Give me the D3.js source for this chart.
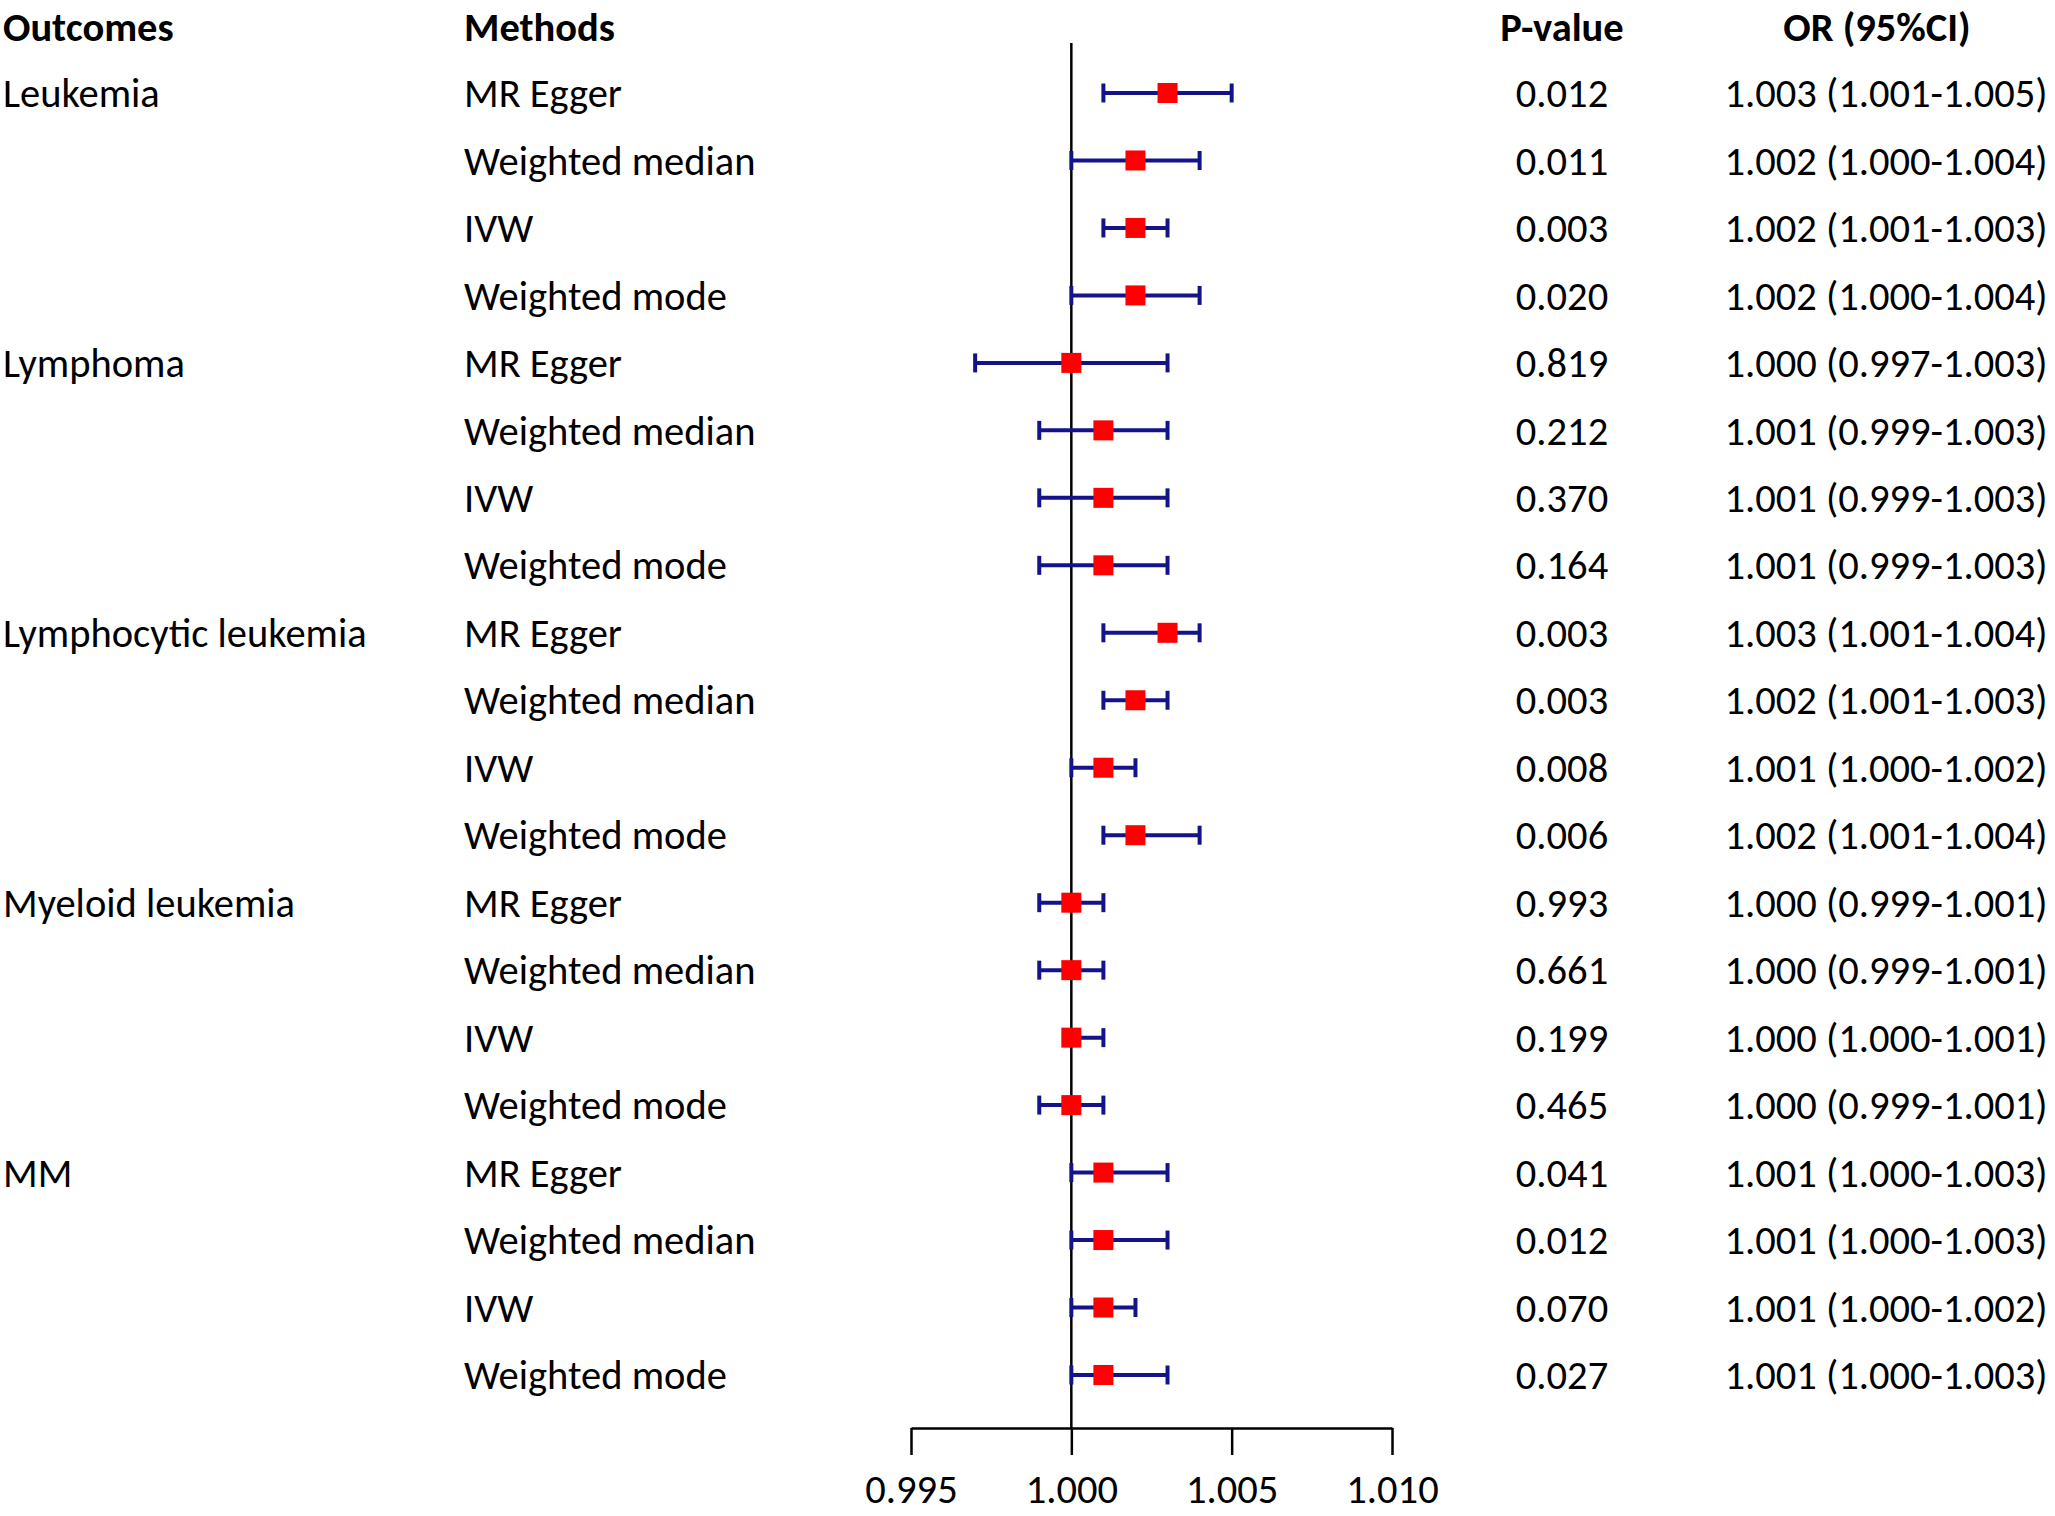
<!DOCTYPE html>
<html>
<head>
<script src="https://d3js.org/d3.v7.min.js"></script>
<style>
  body { margin: 0; background: #fff; }
  text { font-family: Carlito, Calibri, Lato, sans-serif; fill: #000; }
</style>
</head>
<body>
<script>
// outcome groups (4 methods each)
var outcomes = ["Leukemia", "Lymphoma", "Lymphocytic leukemia", "Myeloid leukemia", "MM"];
var methods = ["MR Egger", "Weighted median", "IVW", "Weighted mode"];

// odds ratios and 95% CI, row order = outcome x method
var orValues = [1.003, 1.002, 1.002, 1.002,
                1.000, 1.001, 1.001, 1.001,
                1.003, 1.002, 1.001, 1.002,
                1.000, 1.000, 1.000, 1.000,
                1.001, 1.001, 1.001, 1.001];
var ciLow = [1.001, 1.000, 1.001, 1.000,
             0.997, 0.999, 0.999, 0.999,
             1.001, 1.001, 1.000, 1.001,
             0.999, 0.999, 1.000, 0.999,
             1.000, 1.000, 1.000, 1.000];
var ciHigh = [1.005, 1.004, 1.003, 1.004,
              1.003, 1.003, 1.003, 1.003,
              1.004, 1.003, 1.002, 1.004,
              1.001, 1.001, 1.001, 1.001,
              1.003, 1.003, 1.002, 1.003];
var pValues = ["0.012", "0.011", "0.003", "0.020",
               "0.819", "0.212", "0.370", "0.164",
               "0.003", "0.003", "0.008", "0.006",
               "0.993", "0.661", "0.199", "0.465",
               "0.041", "0.012", "0.070", "0.027"];
var axisTicks = [0.995, 1.000, 1.005, 1.010];

var width = 2055, height = 1516;
var fontSize = 40.5;
var navy = "#14148a", red = "#ff0000";

var rows = orValues.map(function (d, i) {
    return {
        idx: i,
        outcome: i % 4 === 0 ? outcomes[i / 4] : "",
        method: methods[i % 4],
        or: d, lo: ciLow[i], hi: ciHigh[i], p: pValues[i]
    };
});

var svg = d3.select("body").append("svg")
    .attr("width", width)
    .attr("height", height);

var x = d3.scaleLinear().domain([0.995, 1.010]).range([911, 1392]);
var y = d3.scalePoint().domain(d3.range(rows.length)).range([93, 1375]);
var axisY = 1428;

// column headers
var headers = [
    { t: "Outcomes", x: 3, anchor: "start" },
    { t: "Methods", x: 464, anchor: "start" },
    { t: "P-value", x: 1562, anchor: "middle" },
    { t: "OR (95%CI)", x: 1877, anchor: "middle" }
];
svg.selectAll("text.header")
    .data(headers)
    .enter().append("text")
    .attr("class", "header")
    .attr("x", function (d) { return d.x; })
    .attr("y", 27)
    .attr("dy", "0.35em")
    .attr("text-anchor", function (d) { return d.anchor; })
    .style("font-size", fontSize + "px")
    .style("font-weight", "bold")
    .text(function (d) { return d.t; });

// reference line at OR = 1
svg.append("line")
    .attr("x1", x(1)).attr("x2", x(1))
    .attr("y1", 43).attr("y2", axisY)
    .attr("stroke", "#000")
    .attr("stroke-width", 2.5);

var g = svg.selectAll("g.row")
    .data(rows)
    .enter().append("g")
    .attr("class", "row");

g.append("text")
    .attr("x", 3)
    .attr("y", function (d) { return y(d.idx); })
    .attr("dy", "0.35em")
    .style("font-size", fontSize + "px")
    .text(function (d) { return d.outcome; });

g.append("text")
    .attr("x", 464)
    .attr("y", function (d) { return y(d.idx); })
    .attr("dy", "0.35em")
    .style("font-size", fontSize + "px")
    .text(function (d) { return d.method; });

g.append("text")
    .attr("x", 1562)
    .attr("y", function (d) { return y(d.idx); })
    .attr("dy", "0.35em")
    .attr("text-anchor", "middle")
    .style("font-size", fontSize + "px")
    .text(function (d) { return d.p; });

g.append("text")
    .attr("x", 1886)
    .attr("y", function (d) { return y(d.idx); })
    .attr("dy", "0.35em")
    .attr("text-anchor", "middle")
    .style("font-size", fontSize + "px")
    .text(function (d) {
        return d.or.toFixed(3) + " (" + d.lo.toFixed(3) + "-" + d.hi.toFixed(3) + ")";
    });

// CI whiskers
g.append("line")
    .attr("x1", function (d) { return x(d.lo); })
    .attr("x2", function (d) { return x(d.hi); })
    .attr("y1", function (d) { return y(d.idx); })
    .attr("y2", function (d) { return y(d.idx); })
    .attr("stroke", navy)
    .attr("stroke-width", 4);

g.selectAll("line.cap")
    .data(function (d) { return [{ v: d.lo, i: d.idx }, { v: d.hi, i: d.idx }]; })
    .enter().append("line")
    .attr("class", "cap")
    .attr("x1", function (d) { return x(d.v); })
    .attr("x2", function (d) { return x(d.v); })
    .attr("y1", function (d) { return y(d.i) - 9.5; })
    .attr("y2", function (d) { return y(d.i) + 9.5; })
    .attr("stroke", navy)
    .attr("stroke-width", 4);

// point estimates
g.append("rect")
    .attr("x", function (d) { return x(d.or) - 10; })
    .attr("y", function (d) { return y(d.idx) - 10; })
    .attr("width", 20)
    .attr("height", 20)
    .attr("fill", red);

// x axis
var axis = d3.axisBottom(x)
    .tickValues(axisTicks)
    .tickFormat(d3.format(".3f"))
    .tickSize(27)
    .tickSizeOuter(0)
    .tickPadding(19);

var ax = svg.append("g")
    .attr("transform", "translate(0," + axisY + ")")
    .call(axis);
ax.select(".domain").attr("stroke", "#000").attr("stroke-width", 2.5);
ax.selectAll(".tick line").attr("stroke", "#000").attr("stroke-width", 2.5);
ax.selectAll(".tick text")
    .style("font-size", fontSize + "px")
    .style("font-family", "Carlito, Calibri, Lato, sans-serif")
    .attr("fill", "#000");
</script>
</body>
</html>
